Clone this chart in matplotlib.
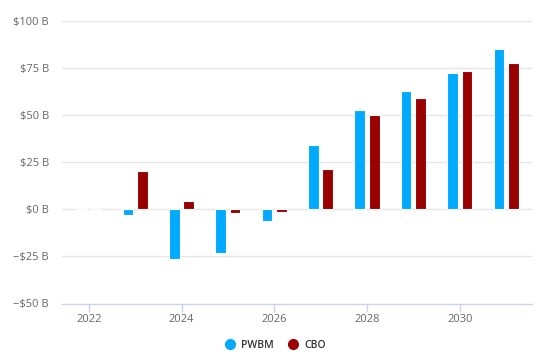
import numpy as np
import matplotlib.pyplot as plt
from matplotlib.lines import Line2D

years = [2022, 2023, 2024, 2025, 2026, 2027, 2028, 2029, 2030, 2031]
pwbm = [0, -3, -26.5, -23.3, -6.3, 33.9, 52.9, 63.0, 72.3, 85.0]
cbo = [0, 20.5, 4.4, -1.7, -1.3, 21.5, 50.1, 58.9, 73.7, 77.6]
y_ticks = [-50, -25, 0, 25, 50, 75, 100]
x_ticks = [2022, 2024, 2026, 2028, 2030]

BLUE = '#00AAFF'
RED = '#990000'

plt.rcParams['font.family'] = ['Open Sans', 'DejaVu Sans']

fig = plt.figure(figsize=(5.5, 3.59), dpi=100)
ax = fig.add_axes([62 / 550, 1 - 303.5 / 359, 470 / 550, (303.5 - 21) / 359])

x = np.array(years, dtype=float)
w = 0.23
ax.bar(x - 0.155, pwbm, width=w, color=BLUE, edgecolor='white', linewidth=0.8, zorder=3)
ax.bar(x + 0.155, cbo, width=w, color=RED, edgecolor='white', linewidth=0.8, zorder=3)

ax.set_xlim(2022 - 0.58, 2031 + 0.56)
ax.set_ylim(-50, 100)
ax.set_yticks(y_ticks)
ax.set_yticklabels([('\u2212$' + str(-v) if v < 0 else '$' + str(v)) + ' B' for v in y_ticks])
ax.set_xticks(x_ticks)
ax.set_xticklabels([str(t) for t in x_ticks])

for v in y_ticks[1:]:
    ax.axhline(v, color='#e6e6e6', linewidth=1, zorder=1)

for s in ['top', 'right', 'left']:
    ax.spines[s].set_visible(False)
ax.spines['bottom'].set_color('#ccd6eb')
ax.spines['bottom'].set_linewidth(1)

ax.tick_params(axis='y', length=0, pad=9.5, labelsize=8, labelcolor='#666666')
ax.tick_params(axis='x', length=6, width=1, color='#ccd6eb', pad=1.5, labelsize=8, labelcolor='#666666')

handles = [Line2D([], [], marker='o', linestyle='', markersize=7, color=BLUE),
           Line2D([], [], marker='o', linestyle='', markersize=7, color=RED)]
fig.legend(handles, ['PWBM', 'CBO'], loc='center', bbox_to_anchor=(275 / 550, 1 - 345 / 359),
           ncol=2, frameon=False, handlelength=1.0, handletextpad=0.55, columnspacing=1.4,
           prop={'size': 7.5, 'weight': 'semibold'}, labelcolor='#333333')

fig.savefig('out.png', dpi=100)
